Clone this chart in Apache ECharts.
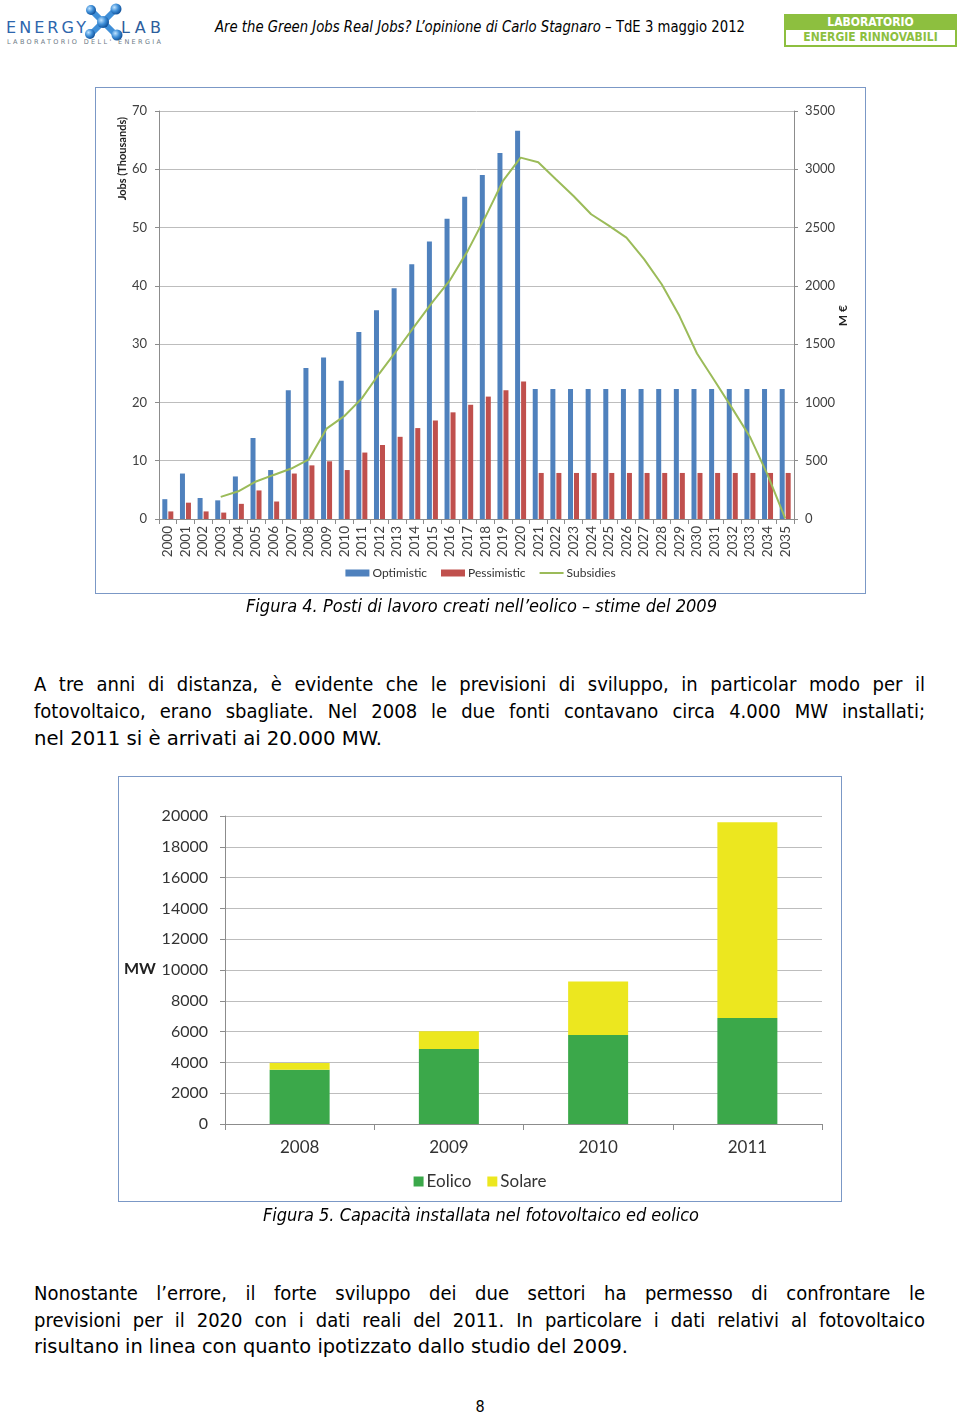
<!DOCTYPE html>
<html>
<head>
<meta charset="utf-8">
<script src="https://cdn.jsdelivr.net/npm/echarts@6/dist/echarts.min.js"></script>
<style>
  html, body { margin: 0; padding: 0; background: #fff; }
  body { width: 960px; height: 1417px; position: relative; overflow: hidden; font-family: 'DejaVu Sans Condensed', 'DejaVu Sans', sans-serif; color: #000; }
  .abs { position: absolute; }
  .ln { position: absolute; white-space: nowrap; line-height: 27px; height: 27px; }
  .ln > span { display: inline-block; transform-origin: 0 50%; white-space: nowrap; }
  .box { position: absolute; border: 1.5px solid #7b98c6; box-sizing: border-box; pointer-events: none; }
</style>
</head>
<body>

<!-- header logo -->
<svg class="abs" style="left:0;top:0" width="175" height="50">
  <defs>
    <radialGradient id="sph" cx="35%" cy="35%" r="65%">
      <stop offset="0%" stop-color="#bfe3ff"/>
      <stop offset="55%" stop-color="#3f8fd8"/>
      <stop offset="100%" stop-color="#15569e"/>
    </radialGradient>
  </defs>
  <line x1="91" y1="10" x2="115" y2="34" stroke="#3f8fd8" stroke-width="6" stroke-linecap="round"/>
  <line x1="115" y1="10" x2="91" y2="34" stroke="#3f8fd8" stroke-width="6" stroke-linecap="round"/>
  <circle cx="91" cy="10" r="5" fill="url(#sph)"/>
  <circle cx="116" cy="9" r="5.5" fill="url(#sph)"/>
  <circle cx="90" cy="34" r="5" fill="url(#sph)"/>
  <circle cx="117" cy="35" r="5.5" fill="url(#sph)"/>
  <circle cx="103" cy="22" r="6" fill="url(#sph)"/>
  <text x="6" y="33" font-family="'DejaVu Sans', sans-serif" font-size="16" fill="#2d66ad" textLength="80">ENERGY</text>
  <text x="121" y="33" font-family="'DejaVu Sans', sans-serif" font-size="16" fill="#2d5e9c" textLength="40">LAB</text>
  <text x="7" y="44" font-family="'DejaVu Sans', sans-serif" font-size="6.5" fill="#6d7a86" textLength="154">LABORATORIO DELL' ENERGIA</text>
</svg>

<div class="ln" id="hdr" data-w="530" style="left:215px;top:14px;font-size:15px;">
  <span><i>Are the Green Jobs Real Jobs? L’opinione di Carlo Stagnaro</i> – TdE 3 maggio 2012</span>
</div>

<div class="abs" style="left:784px;top:14px;width:173px;height:33px;background:#8dbf3f;box-sizing:border-box;">
  <div style="position:absolute;left:0;top:0;width:173px;height:16px;line-height:16px;text-align:center;color:#fff;font-weight:bold;font-size:12px;font-family:'DejaVu Sans Condensed','Liberation Sans Narrow','DejaVu Sans',sans-serif;">LABORATORIO</div>
  <div style="position:absolute;left:2px;top:16px;width:169px;height:15px;background:#fff;line-height:15px;text-align:center;color:#8dbf3f;font-weight:bold;font-size:12px;font-family:'DejaVu Sans Condensed','Liberation Sans Narrow','DejaVu Sans',sans-serif;">ENERGIE RINNOVABILI</div>
</div>

<!-- chart 1 -->
<div id="c1" class="abs" style="left:95px;top:87px;width:771px;height:507px;"></div>
<div class="box" style="left:95px;top:87px;width:771px;height:507px;"></div>

<div class="ln" data-w="471" style="left:246px;top:593px;font-size:17px;"><span><i>Figura 4. Posti di lavoro creati nell’eolico – stime del 2009</i></span></div>

<div class="ln j" data-w="891" style="left:34px;top:671px;font-size:20px;"><span>A tre anni di distanza, è evidente che le previsioni di sviluppo, in particolar modo per il</span></div>
<div class="ln j" data-w="891" style="left:34px;top:698px;font-size:20px;"><span>fotovoltaico, erano sbagliate. Nel 2008 le due fonti contavano circa 4.000 MW installati;</span></div>
<div class="ln" data-w="348" style="left:34px;top:725px;font-size:20px;"><span>nel 2011 si è arrivati ai 20.000 MW.</span></div>

<!-- chart 2 -->
<div id="c2" class="abs" style="left:118px;top:776px;width:724px;height:426px;"></div>
<div class="box" style="left:118px;top:776px;width:724px;height:426px;"></div>

<div class="ln" data-w="436" style="left:263px;top:1202px;font-size:17px;"><span><i>Figura 5. Capacità installata nel fotovoltaico ed eolico</i></span></div>

<div class="ln j" data-w="891" style="left:34px;top:1280px;font-size:20px;"><span>Nonostante l’errore, il forte sviluppo dei due settori ha permesso di confrontare le</span></div>
<div class="ln j" data-w="891" style="left:34px;top:1307px;font-size:20px;"><span>previsioni per il 2020 con i dati reali del 2011. In particolare i dati relativi al fotovoltaico</span></div>
<div class="ln" data-w="594" style="left:34px;top:1333px;font-size:20px;"><span>risultano in linea con quanto ipotizzato dallo studio del 2009.</span></div>

<div class="abs" style="left:0;width:960px;top:1397px;text-align:center;font-size:16px;">8</div>

<script>
// ---------- Figure 4 data ----------
const years = ['2000','2001','2002','2003','2004','2005','2006','2007','2008','2009','2010','2011','2012','2013','2014','2015','2016','2017','2018','2019','2020','2021','2022','2023','2024','2025','2026','2027','2028','2029','2030','2031','2032','2033','2034','2035'];
const optimistic = [3.4,7.8,3.6,3.2,7.3,13.9,8.4,22.1,25.9,27.7,23.7,32.1,35.8,39.6,43.7,47.6,51.5,55.3,59.0,62.8,66.6,22.3,22.3,22.3,22.3,22.3,22.3,22.3,22.3,22.3,22.3,22.3,22.3,22.3,22.3,22.3];
const pessimistic = [1.3,2.8,1.3,1.1,2.6,4.9,3.0,7.8,9.2,9.9,8.4,11.4,12.7,14.1,15.6,16.9,18.3,19.6,21.0,22.1,23.6,7.9,7.9,7.9,7.9,7.9,7.9,7.9,7.9,7.9,7.9,7.9,7.9,7.9,7.9,7.9];
const subsidies = [null,null,null,190,238,322,378,433,512,775,882,1035,1250,1450,1656,1860,2050,2300,2590,2900,3100,3060,2914,2771,2614,2517,2414,2229,2014,1743,1420,1186,949,706,380,5];
const jobsTicks = {min: 0, max: 70, interval: 10};
const euroTicks = {min: 0, max: 3500, interval: 500};

// ---------- Figure 5 data ----------
const years2 = ['2008','2009','2010','2011'];
const eolico = [3530, 4870, 5780, 6880];
const solare = [430, 1150, 3480, 12710];
const mwTicks = {min: 0, max: 20000, interval: 2000};

const FONT = 'Lato, "Open Sans", sans-serif';
const axisGrey = '#8c8c8c';
const gridGrey = '#bdbdbd';
const plain = function (v) { return String(v); };

const c1 = echarts.init(document.getElementById('c1'), null, {renderer: 'canvas'});
c1.setOption({
  animation: false,
  textStyle: {fontFamily: FONT},
  grid: {left: 64, right: 72, top: 24, bottom: 75},
  legend: {
    top: 475, left: 'center', itemWidth: 24, itemHeight: 7, itemGap: 14,
    textStyle: {fontSize: 12, color: '#333', fontFamily: FONT, padding: [0,0,0,-2]},
    data: [
      {name: 'Optimistic', icon: 'rect'},
      {name: 'Pessimistic', icon: 'rect'},
      {name: 'Subsidies', icon: 'path://M0,4 L24,4 L24,6 L0,6 Z'}
    ]
  },
  xAxis: {
    type: 'category', data: years,
    axisLine: {lineStyle: {color: axisGrey}},
    axisTick: {show: true, interval: 0, length: 5, lineStyle: {color: axisGrey}},
    axisLabel: {interval: 0, rotate: 90, fontSize: 13.5, color: '#404040', margin: 7, fontFamily: FONT}
  },
  yAxis: [
    {
      type: 'value', min: jobsTicks.min, max: jobsTicks.max, interval: jobsTicks.interval,
      axisLine: {show: true, lineStyle: {color: axisGrey}},
      axisTick: {show: true, length: 4, lineStyle: {color: axisGrey}},
      axisLabel: {fontSize: 13, color: '#404040', margin: 12, fontFamily: FONT, formatter: plain},
      splitLine: {lineStyle: {color: gridGrey}}
    },
    {
      type: 'value', position: 'right', min: euroTicks.min, max: euroTicks.max, interval: euroTicks.interval,
      axisLine: {show: true, lineStyle: {color: axisGrey}},
      axisTick: {show: true, length: 4, lineStyle: {color: axisGrey}},
      axisLabel: {fontSize: 13, color: '#404040', margin: 11, fontFamily: FONT, formatter: plain},
      splitLine: {show: false}
    }
  ],
  graphic: [
    {type: 'text', left: 22, top: 30, rotation: Math.PI / 2,
     style: {text: 'Jobs (Thousands)', font: 'bold 11px ' + FONT, fill: '#222'}},
    {type: 'text', left: 742, top: 218, rotation: Math.PI / 2,
     style: {text: 'M €', font: 'bold 12px ' + FONT, fill: '#222'}}
  ],
  series: [
    {name: 'Optimistic', type: 'bar', data: optimistic, barWidth: 5, barGap: '20%', itemStyle: {color: '#4f81bd'}},
    {name: 'Pessimistic', type: 'bar', data: pessimistic, barWidth: 5, itemStyle: {color: '#c0504d'}},
    {name: 'Subsidies', type: 'line', yAxisIndex: 1, data: subsidies, symbol: 'none', showSymbol: false,
     lineStyle: {color: '#9bbb59', width: 2}, itemStyle: {color: '#9bbb59'}, z: 5}
  ]
});

const c2 = echarts.init(document.getElementById('c2'), null, {renderer: 'canvas'});
c2.setOption({
  animation: false,
  textStyle: {fontFamily: FONT},
  grid: {left: 107, right: 20, top: 40, bottom: 78},
  legend: {
    top: 392, left: 'center', itemWidth: 10, itemHeight: 10, itemGap: 16,
    textStyle: {fontSize: 17, color: '#333', fontFamily: FONT, padding: [0,0,0,-2]},
    data: [{name: 'Eolico', icon: 'rect'}, {name: 'Solare', icon: 'rect'}]
  },
  xAxis: {
    type: 'category', data: years2,
    axisLine: {lineStyle: {color: axisGrey}},
    axisTick: {show: true, interval: 0, length: 6, lineStyle: {color: axisGrey}},
    axisLabel: {fontSize: 17, color: '#333', margin: 15, fontFamily: FONT}
  },
  yAxis: {
    type: 'value', min: mwTicks.min, max: mwTicks.max, interval: mwTicks.interval,
    axisLine: {show: true, lineStyle: {color: axisGrey}},
    axisTick: {show: true, length: 5, lineStyle: {color: axisGrey}},
    axisLabel: {fontSize: 16, color: '#333', margin: 17, fontFamily: FONT, formatter: plain},
    splitLine: {lineStyle: {color: gridGrey, width: 1.2}}
  },
  graphic: [
    {type: 'text', left: 6, top: 185, style: {text: 'MW', font: 'bold 16px ' + FONT, fill: '#222'}}
  ],
  series: [
    {name: 'Eolico', type: 'bar', stack: 'cap', data: eolico, barWidth: 60, itemStyle: {color: '#3ba84a'}},
    {name: 'Solare', type: 'bar', stack: 'cap', data: solare, barWidth: 60, itemStyle: {color: '#ece71f'}}
  ]
});

// fit text lines to their measured widths in the reference
function fitLines() {
  document.querySelectorAll('.ln').forEach(function (el) {
    const target = parseFloat(el.getAttribute('data-w'));
    const sp = el.querySelector('span');
    sp.style.transform = '';
    sp.style.wordSpacing = '';
    const w = sp.getBoundingClientRect().width;
    if (el.classList.contains('j') && w < target) {
      const n = (sp.textContent.match(/ /g) || []).length;
      sp.style.wordSpacing = ((target - w) / n) + 'px';
    } else {
      sp.style.transform = 'scaleX(' + (target / w) + ')';
    }
  });
}
if (document.fonts && document.fonts.ready) { document.fonts.ready.then(fitLines); }
fitLines();
</script>
</body>
</html>
